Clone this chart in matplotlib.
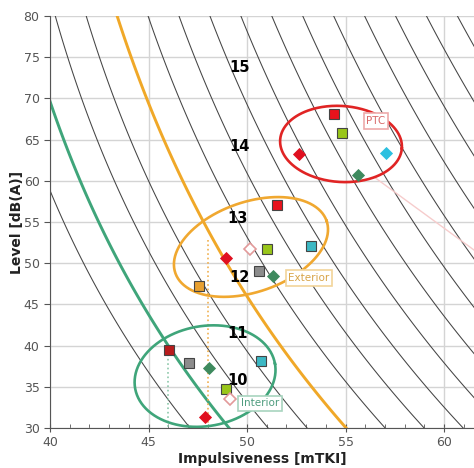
import numpy as np
import matplotlib
matplotlib.use("Agg")
import matplotlib.pyplot as plt
from matplotlib.ticker import MultipleLocator

# ---- data ----
# iso-curve family: reference (orange) curve I0(L) and spacing d(L), both in mTKI
ref_I_at_30 = 55.03
ref_b = 33.5
ref_c = 0.020
spacing_top = 1.57   # spacing of curves at 80 dB(A)
spacing_bot = 1.98   # spacing of curves at 30 dB(A)
curve_levels = list(range(-4, 13))
orange_level = 0
green_level = -3

level_labels = ["15", "14", "13", "12", "11", "10"]
level_label_x = [49.6, 49.6, 49.5, 49.6, 49.5, 49.5]
level_label_y = [73.8, 64.2, 55.4, 48.3, 41.5, 35.8]

# PTC
ptc_I = [54.42, 54.82, 57.06, 52.64, 55.63]
ptc_L = [68.1, 65.8, 63.4, 63.25, 60.7]
ptc_m = ["s", "s", "D", "D", "D"]
ptc_c = ["#e8121c", "#99c61a", "#2cc0e0", "#e01020", "#3e8a5e"]

# Exterior
ext_I = [51.52, 53.25, 51.0, 50.15, 48.93, 50.6, 51.3, 47.56]
ext_L = [57.1, 52.1, 51.7, 51.7, 50.6, 49.05, 48.45, 47.2]
ext_m = ["s", "s", "s", "D", "D", "s", "D", "s"]
ext_c = ["#e8121c", "#3cb8c4", "#99c61a", "none", "#e01020", "#8c8c8c", "#3e8a5e", "#e8a030"]

# Interior
int_I = [46.04, 47.06, 48.07, 50.71, 48.93, 49.14, 47.87]
int_L = [39.5, 37.9, 37.3, 38.1, 34.7, 33.5, 31.3]
int_m = ["s", "s", "D", "s", "s", "D", "D"]
int_c = ["#b81c1c", "#8c8c8c", "#3e8a5e", "#3cb8c4", "#99c61a", "none", "#e01020"]

# ellipses: centre (I, L), semi axes in pixels, angle in screen degrees
ell_center = [(54.77, 64.47), (50.2, 51.97), (47.87, 36.3)]
ell_axes = [(61, 38), (80, 45), (71, 50)]
ell_angle = [-4, 19, 10]
ell_color = ["#e02424", "#f0a830", "#3fa57a"]

box_text = ["PTC", "Exterior", "Interior"]
box_pos = [(56.55, 67.26), (53.15, 48.2), (50.66, 33.0)]
box_tc = ["#d86a6a", "#d8a448", "#4e9c7e"]
box_ec = ["#eeaaaa", "#f2d49a", "#a8d4bf"]

fig = plt.figure(figsize=(4.74, 4.68), dpi=100)
ax = fig.add_axes([50 / 474, 40 / 468, 424 / 474, 412 / 468])
ax.set_xlim(40, 61.52)
ax.set_ylim(30, 80)

# grid / axes styling
ax.xaxis.set_major_locator(MultipleLocator(5))
ax.xaxis.set_minor_locator(MultipleLocator(1))
ax.yaxis.set_major_locator(MultipleLocator(5))
ax.grid(True, which="major", color="#d4d4d4", lw=1)
ax.set_axisbelow(True)
for s in ["top", "right"]:
    ax.spines[s].set_visible(False)
for s in ["left", "bottom"]:
    ax.spines[s].set_color("#555555")
ax.tick_params(axis="x", which="major", direction="inout", length=6, color="#555555",
               labelsize=9, labelcolor="#555555", pad=3)
ax.tick_params(axis="x", which="minor", direction="in", length=3, color="#555555")
ax.tick_params(axis="y", which="major", direction="out", length=4, color="#555555",
               labelsize=9, labelcolor="#555555")
ax.set_xlabel("Impulsiveness [mTKI]", fontsize=10, fontweight="bold", color="#222222", labelpad=2)
ax.set_ylabel("Level [dB(A)]", fontsize=10, fontweight="bold", color="#222222", labelpad=0)

# iso-curves as contours of the fitted field
gi, gl = np.meshgrid(np.linspace(38, 64, 400), np.linspace(28, 82, 400))
ref = ref_I_at_30 + ref_b * (np.exp(-ref_c * gl) - np.exp(-ref_c * 30))
dsp = spacing_top + (spacing_bot - spacing_top) * (80 - gl) / 50
field = (gi - ref) / dsp
black = [k for k in curve_levels if k not in (orange_level, green_level)]
ax.contour(gi, gl, field, levels=black, colors="#444444", linewidths=0.75,
           negative_linestyles="solid")
ax.contour(gi, gl, field, levels=[orange_level], colors="#f0a828", linewidths=2.1,
           negative_linestyles="solid")
ax.contour(gi, gl, field, levels=[green_level], colors="#3fa57a", linewidths=2.1,
           negative_linestyles="solid")

for t, x, y in zip(level_labels, level_label_x, level_label_y):
    ax.text(x, y, t, fontsize=10.5, fontweight="bold", color="black", ha="center", va="center")

# dotted guide lines
ax.plot([48.0, 48.0], [52.8, 30], ls=":", color="#f0b050", lw=1.2)
ax.plot([46.0, 46.0], [39.5, 30], ls=":", color="#8cc8aa", lw=1.2)
# faint leader line from PTC ellipse
ax.plot([56.45, 61.52], [60.46, 51.6], color="#f6cccc", lw=1)

# ellipses drawn in screen space
fig.canvas.draw()
t = np.linspace(0, 2 * np.pi, 300)
for (cx, cy), (a, b), ang, col in zip(ell_center, ell_axes, ell_angle, ell_color):
    px, py = ax.transData.transform((cx, cy))
    th = np.radians(ang)
    ex = px + a * np.cos(t) * np.cos(th) - b * np.sin(t) * np.sin(th)
    ey = py + a * np.cos(t) * np.sin(th) + b * np.sin(t) * np.cos(th)
    pts = ax.transData.inverted().transform(np.column_stack([ex, ey]))
    ax.plot(pts[:, 0], pts[:, 1], color=col, lw=1.9, clip_on=False)

def draw_group(xs, ys, ms, cs):
    for x, y, m, c in zip(xs, ys, ms, cs):
        if c == "none":
            ax.plot(x, y, marker="D", ms=6.5, mfc="white", mec="#e29a9a", mew=1.2, ls="none", zorder=5)
        elif m == "s":
            ax.plot(x, y, marker="s", ms=7.5, mfc=c, mec="#444444", mew=0.8, ls="none", zorder=5)
        else:
            ax.plot(x, y, marker="D", ms=6, mfc=c, mec=c, mew=0.6, ls="none", zorder=5)

draw_group(ptc_I, ptc_L, ptc_m, ptc_c)
draw_group(ext_I, ext_L, ext_m, ext_c)
draw_group(int_I, int_L, int_m, int_c)

for txt, (x, y), tc, ec in zip(box_text, box_pos, box_tc, box_ec):
    ax.text(x, y, txt, fontsize=7.5, color=tc, ha="center", va="center", zorder=6,
            bbox=dict(boxstyle="square,pad=0.25", fc="white", ec=ec, lw=1.2))

fig.savefig("out.png", dpi=100)
